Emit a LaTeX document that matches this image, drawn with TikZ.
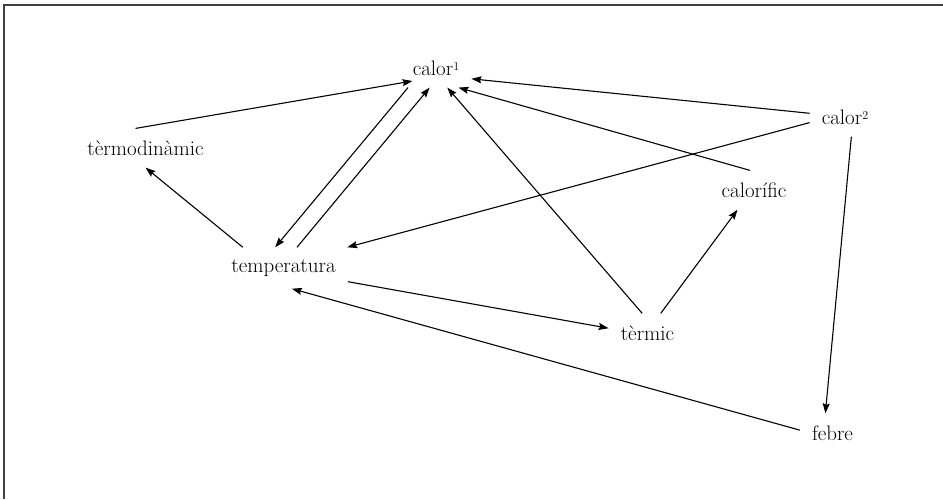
\documentclass[tikz,border=0pt]{standalone}
\usetikzlibrary{arrows.meta}
\newcommand{\supnum}[1]{\raisebox{5pt}{\fontsize{12}{12}\selectfont #1}}
\begin{document}
\begin{tikzpicture}[x=1pt,y=-1pt,
  word/.style={inner xsep=12pt,inner ysep=12pt,font=\fontsize{21}{25}\selectfont},
  link/.style={line width=1.1pt,-{Stealth[length=10pt,width=7pt,inset=1.5pt]}}]
\useasboundingbox (0,0) rectangle (943,499);

% Frame
\draw[line width=1.6pt,black!75] (4,499) -- (4,5) -- (943,5);

% Words
\node[word] (cal1) at (436,68) {calor\supnum{1}};
\node[word] (termo) at (145.5,148) {tèrmodinàmic};
\node[word] (cal2) at (845,117) {calor\supnum{2}};
\node[word] (calorif) at (754,190) {calorífic};
\node[word] (temp) at (283.5,268) {temperatura};
\node[word] (termic) at (647.5,333) {tèrmic};
\node[word] (febre) at (832.5,433) {febre};

% Links into calor1
\draw[link,shorten >=-12pt] (termo.117) -- (cal1.203);
\draw[link] (temp.57) -- (cal1.252);
\draw[link] (cal2.174) -- (cal1.343);
\draw[link] (calorif.102) -- (cal1.319);
\draw[link] (termic.105) -- (cal1.300);

% Links into temperatura
\draw[link] (cal1.215) -- (temp.112);
\draw[link] (cal2.189) -- (temp.18);
\draw[link] (febre.175) -- (temp.292);

% Other links
\draw[link] (temp.153) -- (termo.270);
\draw[link] (temp.348) -- (termic.173);
\draw[link] (termic.56) -- (calorif.230);
\draw[link] (cal2.288) -- (febre.110);
\end{tikzpicture}
\end{document}
